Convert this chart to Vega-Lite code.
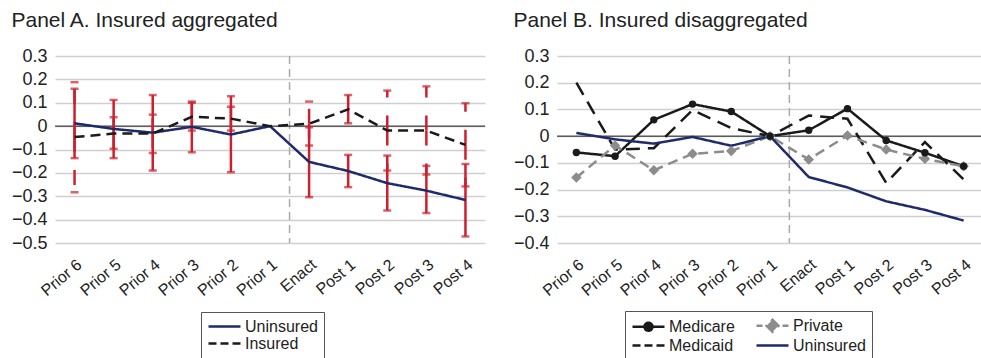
{
  "$schema": "https://vega.github.io/schema/vega-lite/v6.json",
  "background": "white",
  "padding": {"left": 11, "top": 10, "right": 0, "bottom": 0},
  "datasets": {
    "agg": [
      {"period": "Prior 6", "series": "Uninsured", "value": 0.012, "lo": -0.137, "hi": 0.16},
      {"period": "Prior 5", "series": "Uninsured", "value": -0.012, "lo": -0.137, "hi": 0.112},
      {"period": "Prior 4", "series": "Uninsured", "value": -0.028, "lo": -0.19, "hi": 0.133},
      {"period": "Prior 3", "series": "Uninsured", "value": -0.003, "lo": -0.112, "hi": 0.105},
      {"period": "Prior 2", "series": "Uninsured", "value": -0.036, "lo": -0.197, "hi": 0.128},
      {"period": "Prior 1", "series": "Uninsured", "value": 0, "lo": null, "hi": null},
      {"period": "Enact", "series": "Uninsured", "value": -0.153, "lo": -0.304, "hi": -0.005},
      {"period": "Post 1", "series": "Uninsured", "value": -0.192, "lo": -0.261, "hi": -0.123},
      {"period": "Post 2", "series": "Uninsured", "value": -0.244, "lo": -0.361, "hi": -0.126},
      {"period": "Post 3", "series": "Uninsured", "value": -0.276, "lo": -0.372, "hi": -0.17},
      {"period": "Post 4", "series": "Uninsured", "value": -0.316, "lo": -0.472, "hi": -0.162},
      {"period": "Prior 6", "series": "Insured", "value": -0.047, "lo": -0.283, "hi": 0.188},
      {"period": "Prior 5", "series": "Insured", "value": -0.032, "lo": -0.097, "hi": 0.038},
      {"period": "Prior 4", "series": "Insured", "value": -0.032, "lo": -0.115, "hi": 0.049},
      {"period": "Prior 3", "series": "Insured", "value": 0.04, "lo": -0.019, "hi": 0.1},
      {"period": "Prior 2", "series": "Insured", "value": 0.032, "lo": -0.019, "hi": 0.083},
      {"period": "Prior 1", "series": "Insured", "value": 0, "lo": null, "hi": null},
      {"period": "Enact", "series": "Insured", "value": 0.01, "lo": -0.083, "hi": 0.105},
      {"period": "Post 1", "series": "Insured", "value": 0.072, "lo": 0.012, "hi": 0.133},
      {"period": "Post 2", "series": "Insured", "value": -0.019, "lo": -0.19, "hi": 0.152},
      {"period": "Post 3", "series": "Insured", "value": -0.019, "lo": -0.207, "hi": 0.17},
      {"period": "Post 4", "series": "Insured", "value": -0.08, "lo": -0.258, "hi": 0.098}
    ],
    "dis": [
      {"period": "Prior 6", "series": "Medicare", "value": -0.061},
      {"period": "Prior 5", "series": "Medicare", "value": -0.075},
      {"period": "Prior 4", "series": "Medicare", "value": 0.061},
      {"period": "Prior 3", "series": "Medicare", "value": 0.12},
      {"period": "Prior 2", "series": "Medicare", "value": 0.092},
      {"period": "Prior 1", "series": "Medicare", "value": 0},
      {"period": "Enact", "series": "Medicare", "value": 0.022},
      {"period": "Post 1", "series": "Medicare", "value": 0.103},
      {"period": "Post 2", "series": "Medicare", "value": -0.016},
      {"period": "Post 3", "series": "Medicare", "value": -0.062},
      {"period": "Post 4", "series": "Medicare", "value": -0.113},
      {"period": "Prior 6", "series": "Medicaid", "value": 0.2},
      {"period": "Prior 5", "series": "Medicaid", "value": -0.05},
      {"period": "Prior 4", "series": "Medicaid", "value": -0.045},
      {"period": "Prior 3", "series": "Medicaid", "value": 0.098},
      {"period": "Prior 2", "series": "Medicaid", "value": 0.03},
      {"period": "Prior 1", "series": "Medicaid", "value": 0},
      {"period": "Enact", "series": "Medicaid", "value": 0.077},
      {"period": "Post 1", "series": "Medicaid", "value": 0.065},
      {"period": "Post 2", "series": "Medicaid", "value": -0.175},
      {"period": "Post 3", "series": "Medicaid", "value": -0.022},
      {"period": "Post 4", "series": "Medicaid", "value": -0.162},
      {"period": "Prior 6", "series": "Private", "value": -0.155},
      {"period": "Prior 5", "series": "Private", "value": -0.035},
      {"period": "Prior 4", "series": "Private", "value": -0.128},
      {"period": "Prior 3", "series": "Private", "value": -0.066},
      {"period": "Prior 2", "series": "Private", "value": -0.056},
      {"period": "Prior 1", "series": "Private", "value": 0},
      {"period": "Enact", "series": "Private", "value": -0.087},
      {"period": "Post 1", "series": "Private", "value": 0.002},
      {"period": "Post 2", "series": "Private", "value": -0.05},
      {"period": "Post 3", "series": "Private", "value": -0.085},
      {"period": "Post 4", "series": "Private", "value": -0.113},
      {"period": "Prior 6", "series": "Uninsured", "value": 0.012},
      {"period": "Prior 5", "series": "Uninsured", "value": -0.012},
      {"period": "Prior 4", "series": "Uninsured", "value": -0.028},
      {"period": "Prior 3", "series": "Uninsured", "value": -0.003},
      {"period": "Prior 2", "series": "Uninsured", "value": -0.036},
      {"period": "Prior 1", "series": "Uninsured", "value": 0},
      {"period": "Enact", "series": "Uninsured", "value": -0.153},
      {"period": "Post 1", "series": "Uninsured", "value": -0.192},
      {"period": "Post 2", "series": "Uninsured", "value": -0.244},
      {"period": "Post 3", "series": "Uninsured", "value": -0.276},
      {"period": "Post 4", "series": "Uninsured", "value": -0.316}
    ]
  },
  "config": {
    "font": "Liberation Sans",
    "view": {"stroke": null},
    "axis": {"domain": false, "ticks": false, "labelColor": "#222222", "labelFont": "Liberation Sans", "labelOverlap": false},
    "axisY": {"grid": true, "gridColor": "#cfcfcf", "gridWidth": 1.5, "labelFontSize": 18, "labelPadding": 8, "tickCount": 12},
    "axisX": {"grid": false, "labelAngle": -40, "labelFontSize": 16, "labelPadding": 13},
    "title": {"font": "Liberation Sans", "fontSize": 21, "fontWeight": "normal", "anchor": "start", "color": "#222222", "offset": 16},
    "legend": {
      "labelFont": "Liberation Sans", "labelFontSize": 16, "labelColor": "#222222",
      "strokeColor": "#555555", "padding": 6, "symbolSize": 196, "symbolStrokeWidth": 2.5,
      "labelOffset": 21, "rowPadding": 0, "columnPadding": 16
    }
  },
  "spacing": 27,
  "resolve": {
    "scale": {"color": "independent", "strokeDash": "independent"},
    "legend": {"color": "independent", "strokeDash": "independent"}
  },
  "hconcat": [
    {
      "title": "Panel A. Insured aggregated",
      "width": 430,
      "height": 187,
      "layer": [
        {
          "data": {"values": [{"period": "Enact"}]},
          "mark": {"type": "rule", "color": "#ababab", "strokeWidth": 1.5, "strokeDash": [8, 5]},
          "encoding": {
            "x": {
              "field": "period", "type": "ordinal", "bandPosition": 0,
              "scale": {"type": "band", "paddingInner": 0, "paddingOuter": 0,
                "domain": ["Prior 6", "Prior 5", "Prior 4", "Prior 3", "Prior 2", "Prior 1", "Enact", "Post 1", "Post 2", "Post 3", "Post 4"]},
              "axis": {"title": null, "labelOverlap": false}
            }
          }
        },
        {
          "data": {"values": [{"level": 0}]},
          "mark": {"type": "rule", "color": "#1a1a1a", "strokeWidth": 1},
          "encoding": {
            "y": {
              "field": "level", "type": "quantitative",
              "scale": {"domain": [-0.5, 0.3], "nice": false, "zero": false},
              "axis": {"title": null, "labelOverlap": false, "tickCount": 12, "values": [-0.5, -0.4, -0.3, -0.2, -0.1, 0, 0.1, 0.2, 0.3],
                "labelExpr": "datum.value === 0 ? '0' : format(datum.value, '.1f')"}
            }
          }
        },
        {
          "data": {"name": "agg"},
          "transform": [{"filter": "isValid(datum.hi)"}],
          "layer": [
            {
              "transform": [{"filter": "datum.series === 'Uninsured'"}],
              "mark": {"type": "rule", "color": "#cf1f2e", "strokeWidth": 2.5},
              "encoding": {
                "x": {"field": "period", "type": "ordinal"},
                "y": {"field": "value", "type": "quantitative"},
                "y2": {"field": "hi"}
              }
            },
            {
              "transform": [{"filter": "datum.series === 'Uninsured'"}],
              "mark": {"type": "rule", "color": "#cf1f2e", "strokeWidth": 2.5},
              "encoding": {
                "x": {"field": "period", "type": "ordinal"},
                "y": {"field": "value", "type": "quantitative"},
                "y2": {"field": "lo"}
              }
            },
            {
              "transform": [{"filter": "datum.series === 'Insured'"}],
              "mark": {"type": "rule", "color": "#cf1f2e", "strokeWidth": 2.5, "strokeDash": [15, 18]},
              "encoding": {
                "x": {"field": "period", "type": "ordinal"},
                "y": {"field": "value", "type": "quantitative"},
                "y2": {"field": "hi"}
              }
            },
            {
              "transform": [{"filter": "datum.series === 'Insured'"}],
              "mark": {"type": "rule", "color": "#cf1f2e", "strokeWidth": 2.5, "strokeDash": [15, 18]},
              "encoding": {
                "x": {"field": "period", "type": "ordinal"},
                "y": {"field": "value", "type": "quantitative"},
                "y2": {"field": "lo"}
              }
            },
            {
              "mark": {"type": "tick", "color": "#cf1f2e", "size": 8, "thickness": 2.5},
              "encoding": {
                "x": {"field": "period", "type": "ordinal"},
                "y": {"field": "hi", "type": "quantitative"}
              }
            },
            {
              "mark": {"type": "tick", "color": "#cf1f2e", "size": 8, "thickness": 2.5},
              "encoding": {
                "x": {"field": "period", "type": "ordinal"},
                "y": {"field": "lo", "type": "quantitative"}
              }
            }
          ]
        },
        {
          "data": {"name": "agg"},
          "mark": {"type": "line", "strokeWidth": 2.5},
          "encoding": {
            "x": {"field": "period", "type": "ordinal"},
            "y": {"field": "value", "type": "quantitative"},
            "detail": {"field": "series"},
            "color": {
              "field": "series", "type": "nominal",
              "scale": {"domain": ["Uninsured", "Insured"], "range": ["#1f2a6b", "#1a1a1a"]},
              "legend": {
                "title": null, "orient": "none", "legendX": 146, "legendY": 256, "direction": "vertical",
                "encode": {"symbols": {"update": {
                  "shape": {"signal": "datum.value === 'Insured' ? 'M-1,0H0.143M0.714,0H1.857M2.429,0H3.571' : 'M-1,0H3.571'"},
                  "strokeDash": {"value": []},
                  "strokeWidth": {"value": 2.5},
                  "fill": {"value": "transparent"}
                }}}
              }
            },
            "strokeDash": {
              "field": "series", "type": "nominal",
              "scale": {"domain": ["Uninsured", "Insured"], "range": [[1, 0], [10, 6]]},
              "legend": null
            }
          }
        }
      ]
    },
    {
      "title": "Panel B. Insured disaggregated",
      "width": 426,
      "height": 187,
      "layer": [
        {
          "data": {"values": [{"period": "Enact"}]},
          "mark": {"type": "rule", "color": "#ababab", "strokeWidth": 1.5, "strokeDash": [8, 5]},
          "encoding": {
            "x": {
              "field": "period", "type": "ordinal", "bandPosition": 0,
              "scale": {"type": "band", "paddingInner": 0, "paddingOuter": 0,
                "domain": ["Prior 6", "Prior 5", "Prior 4", "Prior 3", "Prior 2", "Prior 1", "Enact", "Post 1", "Post 2", "Post 3", "Post 4"]},
              "axis": {"title": null, "labelOverlap": false}
            }
          }
        },
        {
          "data": {"values": [{"level": 0}]},
          "mark": {"type": "rule", "color": "#1a1a1a", "strokeWidth": 1},
          "encoding": {
            "y": {
              "field": "level", "type": "quantitative",
              "scale": {"domain": [-0.4, 0.3], "nice": false, "zero": false},
              "axis": {"title": null, "labelOverlap": false, "tickCount": 12, "values": [-0.4, -0.3, -0.2, -0.1, 0, 0.1, 0.2, 0.3],
                "labelExpr": "datum.value === 0 ? '0' : format(datum.value, '.1f')"}
            }
          }
        },
        {
          "data": {"name": "dis"},
          "mark": {"type": "line", "strokeWidth": 2.5},
          "encoding": {
            "x": {"field": "period", "type": "ordinal"},
            "y": {"field": "value", "type": "quantitative"},
            "detail": {"field": "series"},
            "color": {
              "field": "series", "type": "nominal",
              "scale": {"domain": ["Medicare", "Private", "Medicaid", "Uninsured"], "range": ["#1a1a1a", "#8c8c8c", "#1a1a1a", "#1f2a6b"]},
              "legend": {
                "title": null, "orient": "none", "legendX": 68, "legendY": 255, "direction": "horizontal", "columns": 2,
                "encode": {"symbols": {"update": {
                  "shape": {"signal": "datum.value === 'Medicaid' ? 'M-1,0H0.143M0.714,0H1.857M2.429,0H3.571' : datum.value === 'Private' ? 'M-1,0H-0.143M2.714,0H3.571M1.286,-0.857L2.143,0L1.286,0.857L0.429,0Z' : datum.value === 'Medicare' ? 'M-1,0H3.571M1.857,0A0.571,0.571,0,1,1,0.714,0A0.571,0.571,0,1,1,1.857,0Z' : 'M-1,0H3.571'"},
                  "strokeDash": {"value": []},
                  "strokeWidth": {"value": 2.5},
                  "fill": {"signal": "datum.value === 'Medicare' ? '#1a1a1a' : datum.value === 'Private' ? '#8c8c8c' : 'transparent'"},
                  "fillOpacity": {"value": 1}
                }}}
              }
            },
            "strokeDash": {
              "field": "series", "type": "nominal",
              "scale": {"domain": ["Medicare", "Private", "Medicaid", "Uninsured"], "range": [[1, 0], [10, 6], [14, 8], [1, 0]]},
              "legend": null
            }
          }
        },
        {
          "data": {"name": "dis"},
          "transform": [{"filter": "datum.series === 'Private'"}],
          "mark": {"type": "point", "shape": "diamond", "filled": true, "opacity": 1, "size": 110, "color": "#8c8c8c"},
          "encoding": {
            "x": {"field": "period", "type": "ordinal"},
            "y": {"field": "value", "type": "quantitative"}
          }
        },
        {
          "data": {"name": "dis"},
          "transform": [{"filter": "datum.series === 'Medicare'"}],
          "mark": {"type": "point", "shape": "circle", "filled": true, "opacity": 1, "size": 55, "color": "#1a1a1a"},
          "encoding": {
            "x": {"field": "period", "type": "ordinal"},
            "y": {"field": "value", "type": "quantitative"}
          }
        }
      ]
    }
  ]
}
